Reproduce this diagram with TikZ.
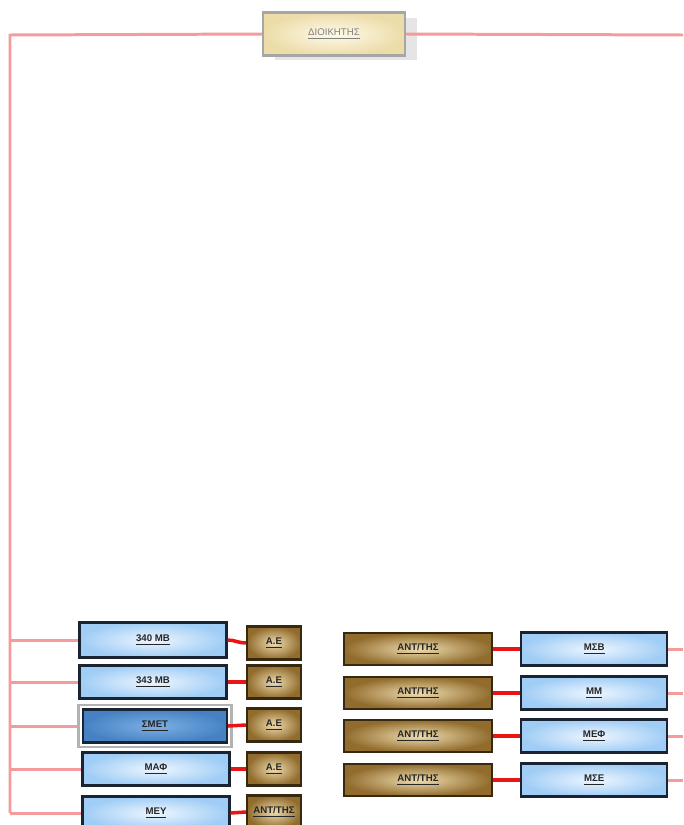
\documentclass[tikz,border=0pt]{standalone}
\usepackage{fontspec}
\setmainfont{Liberation Sans}
\usepackage{tikz}
\usetikzlibrary{positioning, fit, shadows}
\definecolor{linkpink}{RGB}{245, 155, 155}
\definecolor{linkred}{RGB}{235, 20, 20}
\definecolor{bluein}{RGB}{238, 246, 255}
\definecolor{blueout}{RGB}{160, 205, 245}
\definecolor{smetin}{RGB}{125, 175, 228}
\definecolor{smetout}{RGB}{70, 130, 195}
\definecolor{brownin}{RGB}{238, 220, 175}
\definecolor{brownout}{RGB}{145, 108, 45}
\definecolor{beigein}{RGB}{255, 251, 235}
\definecolor{beigeout}{RGB}{236, 220, 168}
\definecolor{navyframe}{RGB}{25, 35, 50}
\definecolor{brownframe}{RGB}{55, 40, 15}
\tikzset{
    chiefbox/.style = {rectangle, draw=gray!70, line width=1.2pt, inner color=beigein, outer color=beigeout, minimum width=2.84cm, minimum height=0.86cm, text=gray, font=\fontsize{5.5}{6.5}\selectfont, drop shadow={shadow xshift=0.24cm, shadow yshift=-0.1cm, fill=gray!20, opacity=1}},
    unitbox/.style = {rectangle, draw=navyframe, line width=1.2pt, inner color=bluein, outer color=blueout, text=black!85, minimum width=2.94cm, minimum height=0.66cm, font=\fontsize{5.5}{6.5}\selectfont\bfseries},
    darkunit/.style = {inner color=smetin, outer color=smetout, minimum width=2.88cm},
    selframe/.style = {rectangle, draw=gray!60, line width=1.6pt, inner sep=0.07cm},
    smallbox/.style = {rectangle, draw=brownframe, line width=1.3pt, inner color=brownin, outer color=brownout, text=black!85, minimum width=1.08cm, minimum height=0.66cm, inner sep=1pt, font=\fontsize{5.5}{6.5}\selectfont\bfseries},
    deputybox/.style = {smallbox, minimum width=2.96cm, minimum height=0.64cm},
    trunk/.style = {draw=linkpink, line width=1.7pt},
    redlink/.style = {draw=linkred, line width=2pt}
}
\begin{document}
\begin{tikzpicture}[x=0.02cm, y=-0.02cm]
\useasboundingbox (0,0) rectangle (683,825);

\node (chief) [chiefbox] at (334,34) {\underline{ΔΙΟΙΚΗΤΗΣ}};
\coordinate (top) at (10,35);
\coordinate (topright) at (683,35);

% left column
\node (mb340) [unitbox, minimum height=0.7cm] at (153,640) {\underline{340 ΜΒ}};
\node (mb343) [unitbox] at (153,682) {\underline{343 ΜΒ}};
\node (smet) [unitbox, darkunit] at (155,726) {\underline{ΣΜΕΤ}};
\node (smetframe) [selframe, fit=(smet)] {};
\node (maf) [unitbox] at (156,769) {\underline{ΜΑΦ}};
\node (mey) [unitbox] at (156,813) {\underline{ΜΕΥ}};

\node (ae1) [smallbox] at (274,643) {\underline{Α.Ε}};
\node (ae2) [smallbox] at (274,682) {\underline{Α.Ε}};
\node (ae3) [smallbox] at (274,725) {\underline{Α.Ε}};
\node (ae4) [smallbox] at (274,769) {\underline{Α.Ε}};
\node (ant5) [smallbox] at (274,812) {\underline{ΑΝΤ/ΤΗΣ}};

% right column
\node (ant1) [deputybox] at (418,649) {\underline{ΑΝΤ/ΤΗΣ}};
\node (ant2) [deputybox] at (418,693) {\underline{ΑΝΤ/ΤΗΣ}};
\node (ant3) [deputybox] at (418,736) {\underline{ΑΝΤ/ΤΗΣ}};
\node (ant4) [deputybox] at (418,780) {\underline{ΑΝΤ/ΤΗΣ}};
\node (msb) [unitbox, minimum width=2.92cm, right=0.54cm of ant1] {\underline{ΜΣΒ}};
\node (mm) [unitbox, minimum width=2.92cm, right=0.54cm of ant2] {\underline{ΜΜ}};
\node (mef) [unitbox, minimum width=2.92cm, right=0.54cm of ant3] {\underline{ΜΕΦ}};
\node (mse) [unitbox, minimum width=2.92cm, right=0.54cm of ant4] {\underline{ΜΣΕ}};

\draw [trunk] (chief.west) -- (top) -- (top |- mey.west);
\draw [trunk] (chief.east) -- (topright);
\foreach \n in {mb340, mb343, smetframe, maf, mey}
    \draw [trunk] (top |- \n.west) -- (\n.west);
\draw [redlink] (mb340.east) to[out=0, in=180] (ae1.west);
\foreach \a/\b in {mb343/ae2, smet/ae3, maf/ae4, mey/ant5, ant1/msb, ant2/mm, ant3/mef, ant4/mse}
    \draw [redlink] (\a.east) -- (\b.west);
\foreach \n in {msb, mm, mef, mse}
    \draw [trunk] (\n.east) -- (\n.east -| topright);
\end{tikzpicture}
\end{document}
